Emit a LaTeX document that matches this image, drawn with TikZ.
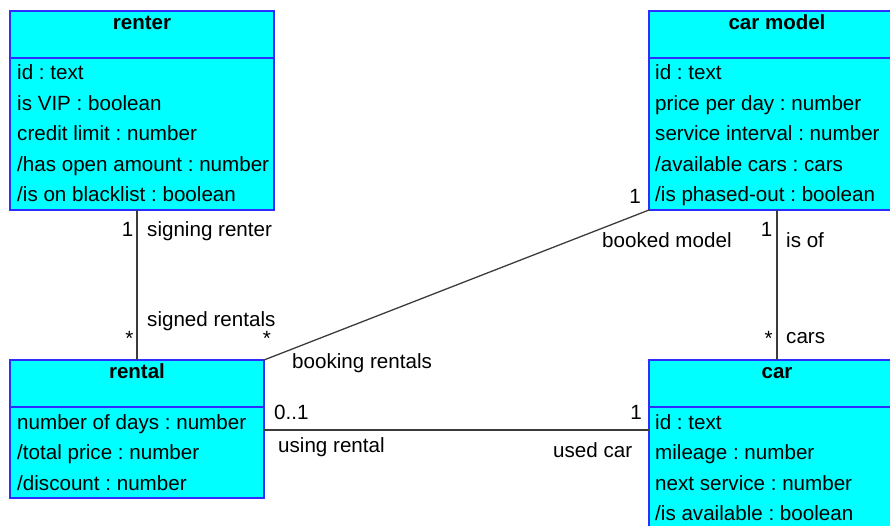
\documentclass[tikz,border=0pt]{standalone}
\usepackage{fontspec}
\setmainfont{Liberation Sans}
\frenchspacing
\begin{document}
\begin{tikzpicture}[x=1pt,y=-1pt,
  classbox/.style={draw=boxblue, fill=boxfill, line width=1.6pt, rectangle,
    inner sep=0pt, outer sep=0pt, anchor=north west},
  divider/.style={draw=boxblue, line width=1.6pt},
  title/.style={font=\fontsize{20.5}{24}\selectfont\bfseries, anchor=base, inner sep=0pt},
  attr/.style={font=\fontsize{20.6}{24}\selectfont, anchor=base west, inner sep=0pt},
  lbl/.style={font=\fontsize{20.6}{24}\selectfont, anchor=base west, inner sep=0pt},
  mult/.style={font=\fontsize{20.6}{24}\selectfont, anchor=base, inner sep=0pt},
  assoc/.style={draw=linegray, line width=1.3pt}]
\definecolor{boxblue}{RGB}{45,45,255}
\definecolor{boxfill}{RGB}{0,255,255}
\definecolor{linegray}{RGB}{60,60,60}
\useasboundingbox (0,0) rectangle (890,526);

% class boxes
\node[classbox, minimum width=264pt, minimum height=199pt] (renter) at (10,11) {};
\node[classbox, minimum width=250pt, minimum height=199pt] (carmodel) at (649,11) {};
\node[classbox, minimum width=254pt, minimum height=138pt] (rental) at (10,360) {};
\node[classbox, minimum width=250pt, minimum height=175pt] (car) at (649,360) {};

% header dividers
\draw[divider] (renter.west |- 0,58) -- (renter.east |- 0,58);
\draw[divider] (carmodel.west |- 0,58) -- (carmodel.east |- 0,58);
\draw[divider] (rental.west |- 0,407) -- (rental.east |- 0,407);
\draw[divider] (car.west |- 0,407) -- (car.east |- 0,407);

% class names
\node[title] (renterT) at (142,30) {renter};
\node[title] (carmodelT) at (777,30) {car model};
\node[title] (rentalT) at (137,378) {rental};
\node[title] (carT) at (777,378) {car};

% attributes: renter
\node[attr] (r1) at (17,80) {id : text};
\node[attr] (r2) at (17,110.5) {is VIP : boolean};
\node[attr] (r3) at (17,141) {credit limit : number};
\node[attr] (r4) at (17,171.5) {/has open amount : number};
\node[attr] (r5) at (17,202) {/is on blacklist : boolean};

% attributes: car model
\node[attr] (m1) at (655,80) {id : text};
\node[attr] (m2) at (655,110.5) {price per day : number};
\node[attr] (m3) at (655,141) {service interval : number};
\node[attr] (m4) at (655,171.5) {/available cars : cars};
\node[attr] (m5) at (655,202) {/is phased-out : boolean};

% attributes: rental
\node[attr] (l1) at (17,429) {number of days : number};
\node[attr] (l2) at (17,459.5) {/total price : number};
\node[attr] (l3) at (17,490) {/discount : number};

% attributes: car
\node[attr] (c1) at (655,429) {id : text};
\node[attr] (c2) at (655,459.5) {mileage : number};
\node[attr] (c3) at (655,490) {next service : number};
\node[attr] (c4) at (655,520.5) {/is available : boolean};

% associations
\draw[assoc] (renter.south -| 137,0) -- (rental.north -| 137,0);
\draw[assoc] (rental.north east) -- (carmodel.south west);
\draw[assoc] (carmodel.south -| 777,0) -- (car.north -| 777,0);
\draw[assoc] (rental.east |- 0,430) -- (car.west |- 0,430);

% renter -- rental
\node[mult] (m1a) at (127.5,237) {1};
\node[lbl] (signing) at (147,237) {signing renter};
\node[mult] (m1b) at (129.5,345.5) {*};
\node[lbl] (signed) at (147,326) {signed rentals};

% rental -- car model
\node[mult] (m2a) at (267,345.5) {*};
\node[lbl] (booking) at (292,368) {booking rentals};
\node[mult] (m2b) at (635,204) {1};
\node[lbl] (booked) at (602,248) {booked model};

% car model -- car
\node[mult] (m3a) at (766.5,237) {1};
\node[lbl] (isof) at (786,248) {is of};
\node[mult] (m3b) at (768.5,345.5) {*};
\node[lbl] (cars) at (786,343) {cars};

% rental -- car
\node[lbl] (zeroone) at (274,419) {0..1};
\node[lbl] (using) at (278,452) {using rental};
\node[mult] (m4b) at (636,419) {1};
\node[lbl] (usedcar) at (553,457) {used car};
\end{tikzpicture}
\end{document}
